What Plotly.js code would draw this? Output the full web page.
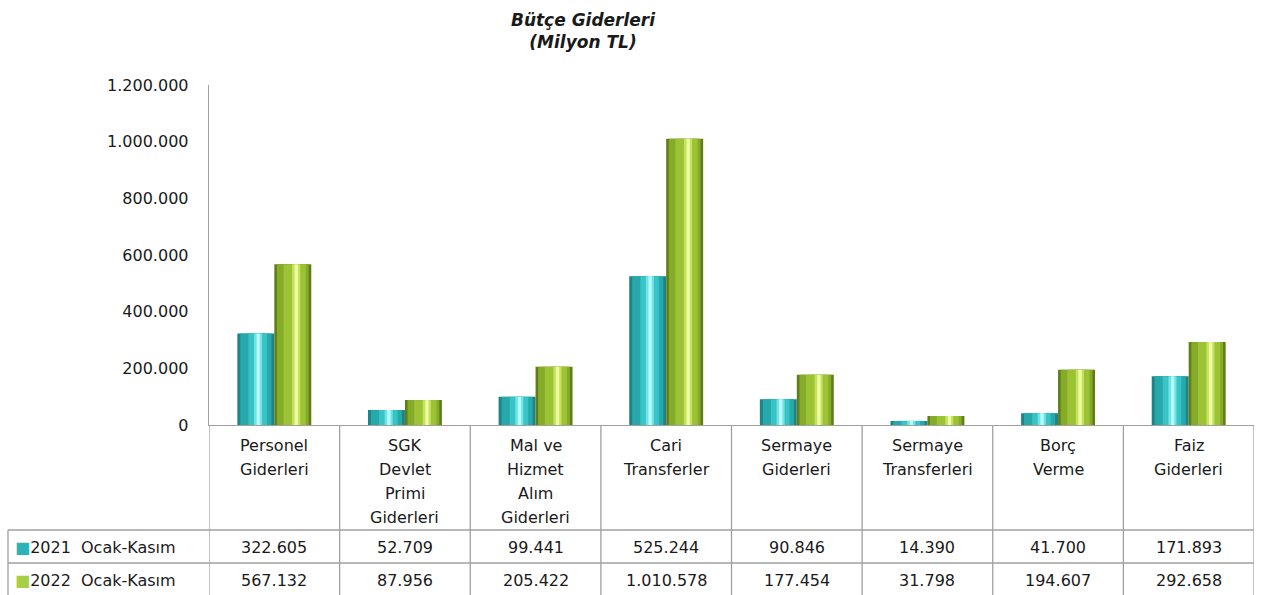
<!DOCTYPE html>
<html>
<head>
<meta charset="utf-8">
<script src="https://cdn.plot.ly/plotly-3.0.1.min.js"></script>
<style>html,body{margin:0;padding:0;background:#fff;}#chart{width:1274px;height:595px;}</style>
</head>
<body>
<div id="chart"></div>
<script>
// ---- data ----
const categories = ['Personel<br>Giderleri', 'SGK<br>Devlet<br>Primi<br>Giderleri', 'Mal ve<br>Hizmet<br>Alım<br>Giderleri', 'Cari<br>Transferler', 'Sermaye<br>Giderleri', 'Sermaye<br>Transferleri', 'Borç<br>Verme', 'Faiz<br>Giderleri'];
const values2021 = [322605, 52709, 99441, 525244, 90846, 14390, 41700, 171893];
const values2022 = [567132, 87956, 205422, 1010578, 177454, 31798, 194607, 292658];
const seriesNames = ['2021\u00a0\u00a0Ocak-Kasım', '2022\u00a0\u00a0Ocak-Kasım'];
const yTickValues = [0, 200000, 400000, 600000, 800000, 1000000, 1200000];
const chartTitle = 'Bütçe Giderleri<br>(Milyon TL)';

// ---- styling ----
const FONT = 'DejaVu Sans';
const TEXT = '#1a1a1a';
const GRID = '#a0a0a0';
const W = 0.283; // bar width in category units
const tealLayers = [
  {o: 0.00, w: 1.00, c: '#1d8588'},
  {o: 0.08, w: 0.84, c: '#27a9ac'},
  {o: 0.30, w: 0.50, c: '#38c4c7'},
  {o: 0.45, w: 0.22, c: '#6fe3e5'},
  {o: 0.52, w: 0.09, c: '#b8fbfb'}
];
const greenLayers = [
  {o: 0.00, w: 1.00, c: '#5f7d18'},
  {o: 0.07, w: 0.86, c: '#86ab28'},
  {o: 0.25, w: 0.60, c: '#9cc335'},
  {o: 0.48, w: 0.22, c: '#c4e25a'},
  {o: 0.55, w: 0.09, c: '#eefaa6'}
];

const fmt = v => String(v).replace(/\B(?=(\d{3})+(?!\d))/g, '.');

const traces = [];
function addCylinder(vals, name, startOffset, layers) {
  layers.forEach((L, i) => {
    traces.push({
      type: 'bar', x: categories, y: vals, name: name,
      offset: startOffset + L.o * W, width: L.w * W,
      marker: {color: L.c, line: {width: 0}},
      hoverinfo: i === 0 ? 'y+name' : 'skip', showlegend: false
    });
  });
}
addCylinder(values2021, seriesNames[0], -W, tealLayers);
addCylinder(values2022, seriesNames[1], 0, greenLayers);

const annotations = [];
const shapes = [];
// category header labels
categories.forEach(c => {
  c.split('<br>').forEach((line, i) => {
    annotations.push({xref: 'x', yref: 'paper', x: c, y: 0, yanchor: 'middle', xanchor: 'center',
      yshift: -20 - i * 24, text: line, showarrow: false, font: {family: FONT, size: 16, color: TEXT}});
  });
});
// value rows
[values2021, values2022].forEach((vals, r) => {
  vals.forEach((v, i) => {
    annotations.push({xref: 'x', yref: 'paper', x: categories[i], y: 0, yanchor: 'middle', xanchor: 'center',
      yshift: -122 - r * 33, text: fmt(v), showarrow: false, font: {family: FONT, size: 16, color: TEXT}});
  });
});
// row legend labels
const legendColors = ['#2ab4b7', '#a6cf45'];
seriesNames.forEach((n, r) => {
  annotations.push({xref: 'paper', yref: 'paper', x: 0, y: 0, xanchor: 'left', yanchor: 'middle',
    xshift: -196, yshift: -122 - r * 33,
    text: '<span style="color:' + legendColors[r] + '">■</span>' + n,
    showarrow: false, font: {family: FONT, size: 16, color: TEXT}});
});
// table grid lines
for (let i = 0; i <= categories.length; i++) {
  shapes.push({type: 'line', xref: 'x', yref: 'paper', ysizemode: 'pixel', yanchor: 0,
    x0: i - 0.5, x1: i - 0.5, y0: -172, y1: 0, line: {color: GRID, width: 1.3}});
}
[-105, -138].forEach(dy => {
  shapes.push({type: 'line', xref: 'paper', yref: 'paper', ysizemode: 'pixel', yanchor: 0,
    x0: -201 / 1045, x1: 1, y0: dy, y1: dy, line: {color: GRID, width: 1.3}});
});
shapes.push({type: 'line', xref: 'paper', yref: 'paper', ysizemode: 'pixel', yanchor: 0,
  x0: -201 / 1045, x1: -201 / 1045, y0: -172, y1: -105, line: {color: GRID, width: 1.3}});

const layout = {
  width: 1274, height: 595,
  margin: {l: 209, r: 20, t: 85, b: 170, pad: 0},
  paper_bgcolor: '#ffffff', plot_bgcolor: '#ffffff',
  separators: ',.',
  barmode: 'overlay',
  showlegend: false,
  font: {family: FONT, size: 16, color: TEXT},
  title: {text: chartTitle, x: 583 / 1274, xanchor: 'center', xref: 'container',
    yref: 'container', y: 1 - 26 / 595, yanchor: 'middle',
    font: {family: FONT, size: 17, color: TEXT, weight: 'bold', style: 'italic'}},
  xaxis: {type: 'category', showticklabels: false, ticks: '', showgrid: false, zeroline: false,
    showline: true, linecolor: GRID, linewidth: 1.3, range: [-0.5, categories.length - 0.5], fixedrange: true},
  yaxis: {range: [0, 1200000], tickvals: yTickValues, tickformat: ',d', ticks: '',
    showgrid: false, zeroline: false, showline: true, linecolor: GRID, linewidth: 1.3,
    ticklabelstandoff: 16, tickfont: {family: FONT, size: 16, color: TEXT}, fixedrange: true},
  annotations: annotations,
  shapes: shapes
};

Plotly.newPlot('chart', traces, layout, {displayModeBar: false, staticPlot: true});
</script>
</body>
</html>
